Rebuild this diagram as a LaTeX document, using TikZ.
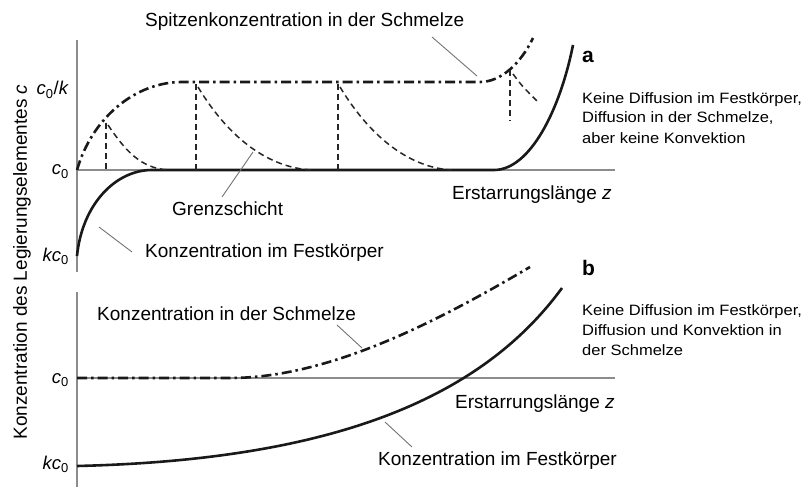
\documentclass[tikz,border=0pt]{standalone}
\usepackage{fontspec}
\usepackage{graphicx}
\setmainfont{Liberation Sans}
\newcommand\ntxt[1]{\scalebox{1.1}[1]{#1}}
\begin{document}
\begin{tikzpicture}[x=1pt,y=-1pt,
  axis/.style={draw=black!45,line width=1.2pt},
  solidc/.style={draw=black!90,line width=2.6pt},
  melt/.style={draw=black!90,line width=2.6pt,dash pattern=on 10pt off 4pt on 2.5pt off 4pt},
  dsh/.style={draw=black!85,line width=1.5pt,dash pattern=on 6pt off 4pt},
  leader/.style={draw=black!55,line width=0.9pt},
  lbl/.style={font=\fontsize{19}{21}\selectfont,inner sep=0pt,anchor=base west},
  ylbl/.style={font=\fontsize{18.5}{20}\selectfont,inner sep=0pt,anchor=base east},
  note/.style={font=\fontsize{15}{20}\selectfont,inner sep=0pt,anchor=base west},
  tag/.style={font=\fontsize{21}{22}\selectfont\bfseries,inner sep=0pt,anchor=base west}]
\useasboundingbox (0,0) rectangle (807,487);
% axes
\draw[axis] (77,40) -- (77,272);
\draw[axis] (77,292) -- (77,487);
\draw[axis] (77,170) -- (615,170);
\draw[axis] (77,378) -- (615,378);
% y labels
\node[ylbl] (ck) at (69,95) {\textit{c}\textsubscript{0}/\textit{k}};
\node[ylbl] (c0a) at (69,175) {\textit{c}\textsubscript{0}};
\node[ylbl] (kc0a) at (69,261) {\textit{kc}\textsubscript{0}};
\node[ylbl] (c0b) at (69,383) {\textit{c}\textsubscript{0}};
\node[ylbl] (kc0b) at (69,469) {\textit{kc}\textsubscript{0}};
\node[font=\fontsize{19}{21}\selectfont,inner sep=0pt,rotate=90] (yl) at (22,262) {Konzentration des Legierungselementes \textit{c}};
% top panel curves
\draw[melt] (77,170) .. controls (92,118) and (135,82) .. (182,82) -- (480,82) .. controls (500,82) and (520,65) .. (533,38);
\draw[solidc] (77,256) .. controls (82,205) and (115,170) .. (152,170) -- (494,170) .. controls (530,170) and (560,110) .. (573,45);
\draw[dsh] (106,123) -- (106,170);
\draw[dsh] (108,125) .. controls (125,150) and (140,168) .. (168,170);
\draw[dsh] (196,84) -- (196,170);
\draw[dsh] (198,87) .. controls (230,140) and (270,168) .. (312,170);
\draw[dsh] (338,84) -- (338,170);
\draw[dsh] (340,87) .. controls (372,140) and (412,168) .. (452,170);
\draw[dsh] (510,70) -- (510,121);
\draw[dsh] (513,74) .. controls (522,86) .. (538,102);
% bottom panel curves
\draw[melt] (77,378) -- (230,378) .. controls (330,378) and (440,320) .. (530,267);
\draw[solidc] (77,466) .. controls (330,460) and (480,400) .. (562,288);
% labels top
\node[lbl] (spitze) at (145,27) {Spitzenkonzentration in der Schmelze};
\node[lbl] (grenz) at (172,215) {Grenzschicht};
\node[lbl] (festa) at (145,257) {Konzentration im Festkörper};
\node[lbl] (erstA) at (452,200) {Erstarrungslänge \textit{z}};
\node[tag] (ta) at (582,63) {a};
\node[note] (na1) at (582,103) {\ntxt{Keine Diffusion im Festkörper,}};
\node[note] (na2) at (582,123) {\ntxt{Diffusion in der Schmelze,}};
\node[note] (na3) at (582,143) {\ntxt{aber keine Konvektion}};
% labels bottom
\node[lbl] (schmb) at (97,320) {Konzentration in der Schmelze};
\node[lbl] (erstB) at (455,408) {Erstarrungslänge \textit{z}};
\node[lbl] (festb) at (378,465) {Konzentration im Festkörper};
\node[tag] (tb) at (582,275) {b};
\node[note] (nb1) at (582,315) {\ntxt{Keine Diffusion im Festkörper,}};
\node[note] (nb2) at (582,335) {\ntxt{Diffusion und Konvektion in}};
\node[note] (nb3) at (582,355) {\ntxt{der Schmelze}};
% leaders
\coordinate (l1a) at (432,37); \coordinate (l1b) at (477,76);
\coordinate (l2a) at (222,197); \coordinate (l2b) at (253,152);
\coordinate (l3a) at (132,252); \coordinate (l3b) at (99,227);
\coordinate (l4a) at (337,325); \coordinate (l4b) at (362,348);
\coordinate (l5a) at (412,447); \coordinate (l5b) at (385,422);
\draw[leader] (l1a) -- (l1b);
\draw[leader] (l2a) -- (l2b);
\draw[leader] (l3a) -- (l3b);
\draw[leader] (l4a) -- (l4b);
\draw[leader] (l5a) -- (l5b);
\end{tikzpicture}
\end{document}
